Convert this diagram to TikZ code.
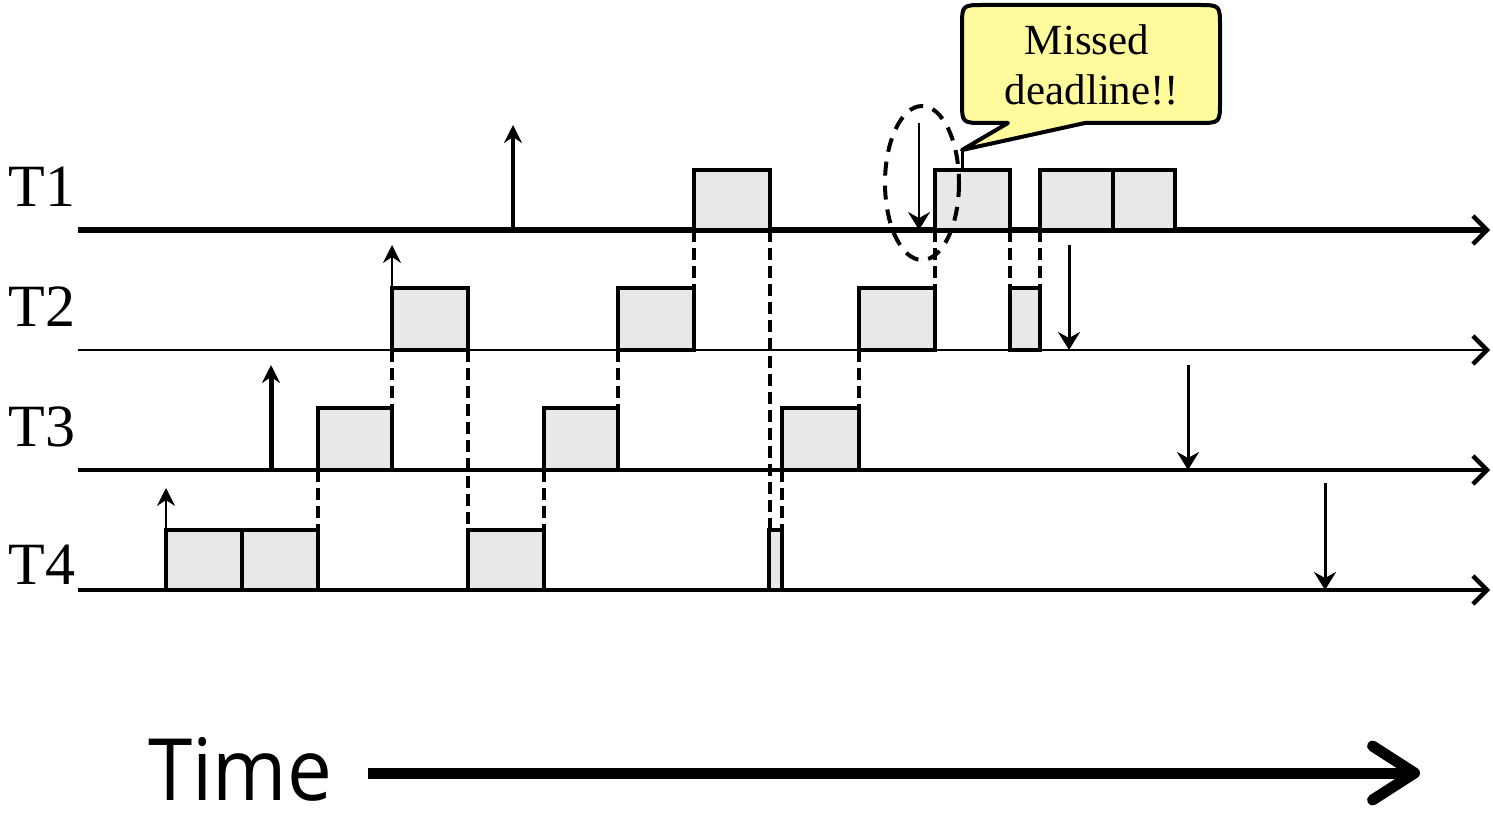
\documentclass[tikz,border=0pt]{standalone}
\usepackage{fontspec}
\setmainfont{Liberation Serif}
\newfontfamily\timefont{Open Sans}
\usetikzlibrary{arrows.meta}
\definecolor{boxgray}{RGB}{232,232,232}
\definecolor{noteyellow}{RGB}{255,250,155}
\begin{document}
\begin{tikzpicture}[x=0.5pt,y=-0.5pt,
  axis/.style={-{Straight Barb[length=7pt,width=14pt,line width=2.2pt]}},
  slot/.style={draw=black,fill=boxgray,line width=2pt},
  switchline/.style={dash pattern=on 6pt off 3pt, line width=2pt},
  release/.style={-{Stealth[length=9pt,width=9pt,inset=3pt]}},
  deadline/.style={-{Stealth[length=9pt,width=11pt,inset=3pt]}},
  lab/.style={font=\fontsize{30}{36}\selectfont, anchor=base west, inner sep=0pt},
  note/.style={font=\fontsize{21.5}{25}\selectfont, anchor=base, inner sep=0pt}
]
\useasboundingbox (0,0) rectangle (1493,818);

% axes
\foreach \y/\w [count=\i] in {230/3pt,350/1pt,470/2pt,590/2pt} {
  \coordinate (ax\i L) at (78,\y);
  \coordinate (ax\i R) at (1490,\y);
  \draw[axis, line width=\w] (ax\i L) -- (ax\i R);
}

% task labels
\node[lab] (T1) at (8,207) {T1};
\node[lab] (T2) at (8,326) {T2};
\node[lab] (T3) at (8,446) {T3};
\node[lab] (T4) at (8,584) {T4};

% context switch dashed lines
\foreach \x/\ya/\yb in {318/470/530, 392/350/408, 468/350/530, 544/470/530,
  618/350/408, 694/230/288, 770/230/530, 782/470/530, 859/350/408,
  935/230/288, 1010/230/288, 1040/230/288}
  \draw[switchline] (\x,\ya) -- (\x,\yb);

% T1 slots
\draw[slot] (694,170) rectangle (770,230);
\draw[slot] (935,170) rectangle (1010,230);
\draw[slot] (1040,170) rectangle (1113,230);
\draw[slot] (1113,170) rectangle (1175,230);
% T2 slots
\draw[slot] (392,288) rectangle (468,350);
\draw[slot] (618,288) rectangle (694,350);
\draw[slot] (859,288) rectangle (935,350);
\draw[slot] (1010,288) rectangle (1040,350);
% T3 slots
\draw[slot] (318,408) rectangle (392,470);
\draw[slot] (544,408) rectangle (618,470);
\draw[slot] (782,408) rectangle (859,470);
% T4 slots
\draw[slot] (166,530) rectangle (242,590);
\draw[slot] (242,530) rectangle (318,590);
\draw[slot] (468,530) rectangle (544,590);
\draw[slot] (769,530) rectangle (782,590);

% release arrows
\draw[release, line width=2pt] (513,230) -- (513,125);
\draw[release, line width=1pt] (392,288) -- (392,245);
\draw[release, line width=2.5pt] (271,470) -- (271,365);
\draw[release, line width=1pt] (166,530) -- (166,488);

% deadline arrows
\draw[deadline, line width=1pt] (919,123) -- (919,230);
\draw[deadline, line width=1.5pt] (1069,245) -- (1069,350);
\draw[deadline, line width=1.5pt] (1188,365) -- (1188,470);
\draw[deadline, line width=1.5pt] (1325,483) -- (1325,590);

% dashed ellipse
\coordinate (ell) at (922,183);
\draw[line width=2pt, dash pattern=on 7pt off 5pt] (ell) ellipse [x radius=37, y radius=77];

% callout
\draw[fill=noteyellow, line width=2pt, line join=round]
  (1008,123) -- (984,123) .. controls (962,123) .. (962,101) -- (962,27)
  .. controls (962,5) .. (984,5) -- (1198,5) .. controls (1220,5) .. (1220,27)
  -- (1220,101) .. controls (1220,123) .. (1198,123) -- (1085,123) -- (962,150) -- cycle;
\coordinate (tip) at (962,150);
\coordinate (tipfoot) at (962,170);
\draw[line width=1.5pt] (tip) -- (tipfoot);
\node[note] (m1) at (1087,55) {Missed};
\node[note] (m2) at (1092,105) {deadline!!};

% time arrow
\node[anchor=base west, inner sep=0pt, font=\timefont\fontsize{43}{48}\selectfont] (time) at (148,800) {\scalebox{0.93}[1]{Time}};
\coordinate (tstart) at (368,773);
\coordinate (tend) at (1420,773);
\draw[line width=5.5pt, -{Straight Barb[length=21pt,width=27pt,round]}] (tstart) -- (tend);
\end{tikzpicture}
\end{document}
